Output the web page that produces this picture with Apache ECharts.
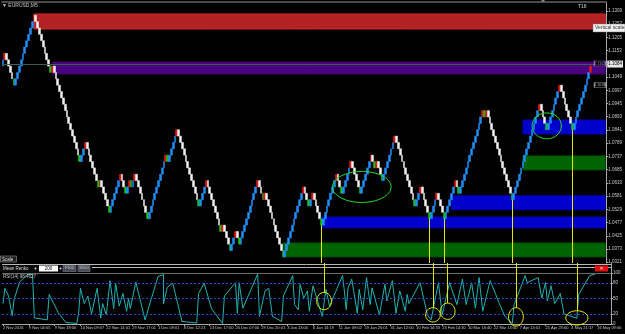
<!DOCTYPE html>
<html><head><meta charset="utf-8">
<script src="https://cdn.jsdelivr.net/npm/echarts@6/dist/echarts.min.js"></script>
<style>html,body{margin:0;padding:0;background:#000;}#c{width:625px;height:334px;}</style>
</head><body><div id="c"></div>
<script>
const symbolTitle = 'EURUSD,M5';
const indicatorTitle = 'RSI(14) 98.4627';
const timeLabels = ['2 Nov 2016','9 Nov 04:05','9 Nov 18:00','14 Nov 09:07','22 Nov 14:01','29 Nov 17:01','1 Dec 09:01','8 Dec 12:23','13 Dec 17:00','20 Dec 07:00','29 Dec 20:01','3 Jan 13:00','6 Jan 14:19','11 Jan 09:02','19 Jan 20:01','31 Jan 12:00','10 Feb 14:33','23 Feb 14:30','10 Mar 16:40','22 Mar 13:00','7 Apr 14:01','21 Apr 23:00','4 May 21:17','16 May 09:06'];
const priceTicks = [1.0321,1.0373,1.0425,1.0477,1.0529,1.0581,1.0633,1.0685,1.0737,1.0789,1.0841,1.0893,1.0945,1.0997,1.1049,1.1101,1.1153,1.1205,1.1257,1.1309];
const oscTicks = [0,20,50,80,100];
const oscLevels = [20,50,80];
const firstOpen = 1.1092;
const brickCloses = [
1.1117,1.1142,1.1117,1.1092,1.1067,1.1042,1.1017,
1.1042,1.1067,1.1092,1.1117,1.1142,1.1167,1.1192,1.1217,1.1242,1.1267,1.1292,
1.1267,1.1242,1.1217,1.1192,1.1167,1.1142,1.1117,1.1092,1.1067,
1.1092,
1.1067,1.1042,1.1017,1.0992,1.0967,1.0942,1.0917,1.0892,1.0867,1.0842,1.0817,1.0792,1.0767,1.0742,1.0717,
1.0742,1.0767,1.0792,
1.0767,1.0742,1.0717,1.0692,1.0667,1.0642,1.0617,
1.0642,
1.0617,1.0592,1.0567,1.0542,1.0517,
1.0542,1.0567,1.0592,1.0617,1.0642,1.0667,
1.0642,1.0617,1.0592,
1.0617,1.0642,
1.0617,
1.0642,1.0667,
1.0642,1.0617,1.0592,1.0567,1.0542,1.0517,1.0492,
1.0517,1.0542,1.0567,1.0592,1.0617,1.0642,1.0667,1.0692,1.0717,1.0742,
1.0717,
1.0742,1.0767,1.0792,1.0817,1.0842,
1.0817,1.0792,1.0767,1.0742,1.0717,1.0692,1.0667,1.0642,1.0617,1.0592,1.0567,1.0542,
1.0567,1.0592,1.0617,1.0642,
1.0617,1.0592,1.0567,1.0542,1.0517,1.0492,1.0467,1.0442,
1.0467,
1.0442,1.0417,1.0392,1.0367,
1.0392,1.0417,1.0442,
1.0417,1.0392,
1.0417,1.0442,1.0467,1.0492,1.0517,1.0542,1.0567,1.0592,1.0617,1.0642,
1.0617,1.0592,1.0567,
1.0592,
1.0567,1.0542,1.0517,1.0492,1.0467,1.0442,1.0417,1.0392,1.0367,1.0342,
1.0367,1.0392,1.0417,1.0442,1.0467,1.0492,1.0517,1.0542,1.0567,1.0592,1.0617,
1.0592,1.0567,1.0542,
1.0567,1.0592,
1.0567,1.0542,1.0517,1.0492,1.0467,
1.0492,1.0517,1.0542,1.0567,1.0592,1.0617,1.0642,1.0667,
1.0642,1.0617,1.0592,
1.0617,1.0642,1.0667,1.0692,1.0717,
1.0692,1.0667,1.0642,1.0617,1.0592,
1.0617,1.0642,1.0667,1.0692,1.0717,1.0742,
1.0717,1.0692,
1.0717,
1.0692,1.0667,1.0642,
1.0667,1.0692,1.0717,1.0742,1.0767,1.0792,1.0817,
1.0792,1.0767,1.0742,1.0717,1.0692,1.0667,1.0642,1.0617,1.0592,1.0567,1.0542,
1.0567,1.0592,1.0617,
1.0592,1.0567,1.0542,1.0517,1.0492,
1.0517,1.0542,1.0567,1.0592,
1.0567,1.0542,1.0517,1.0492,
1.0517,1.0542,1.0567,1.0592,1.0617,1.0642,
1.0617,1.0592,
1.0617,1.0642,1.0667,1.0692,1.0717,1.0742,1.0767,1.0792,1.0817,1.0842,1.0867,1.0892,1.0917,
1.0892,1.0917,
1.0892,1.0867,1.0842,1.0817,1.0792,1.0767,1.0742,1.0717,1.0692,1.0667,1.0642,1.0617,1.0592,1.0567,
1.0592,1.0617,1.0642,1.0667,1.0692,1.0717,1.0742,1.0767,1.0792,1.0817,1.0842,1.0867,1.0892,1.0917,1.0942,
1.0917,1.0892,1.0867,1.0842,
1.0867,1.0892,1.0917,1.0942,1.0967,1.0992,1.1017,
1.0992,1.0967,1.0942,1.0917,1.0892,1.0867,1.0842,
1.0867,1.0892,1.0917,1.0942,1.0967,1.0992,1.1017,1.1042,1.1067,1.1092
];
const zoneStart = [17, 27, 153, 174, 245, 284, 284];
const zoneLow   = [1.1238, 1.1061, 1.0342, 1.0456, 1.0527, 1.0684, 1.0825];
const zoneHigh  = [1.1297, 1.1108, 1.0397, 1.0499, 1.0582, 1.0739, 1.0880];
const zoneKind  = ['supply','pivot','demand','support','support','demand','support'];
const currentPrice = 1.1084;
const tagPrices = [1.1102, 1.1018];
const oscPoints = [[0,40],[1,70],[3,55],[5,16],[6,48],[9,82],[13,97],[16,97],[17,12],[24,8],[25,58],[30,22],[34,3],[40,1],[41,22],[42,70],[44,40],[46,55],[48,20],[51,70],[53,12],[54,40],[56,18],[58,85],[60,30],[61,80],[63,35],[65,60],[67,25],[68,50],[69,30],[72,82],[77,8],[80,45],[84,93],[87,97],[87,40],[89,72],[92,80],[97,5],[105,2],[106,60],[109,80],[113,30],[119,1],[120,55],[126,81],[127,21],[128,81],[130,31],[138,98],[139,15],[142,65],[144,70],[146,15],[151,5],[152,55],[157,95],[158,38],[160,28],[161,78],[163,51],[165,65],[166,25],[168,75],[173,15],[175,68],[177,35],[184,95],[185,65],[186,28],[187,71],[189,88],[192,21],[193,68],[195,28],[197,91],[199,38],[200,71],[204,18],[207,78],[208,45],[211,85],[213,21],[215,65],[218,25],[219,58],[220,40],[226,81],[230,18],[232,8],[236,81],[238,18],[242,81],[246,38],[249,88],[251,38],[254,81],[256,31],[258,91],[260,25],[264,85],[267,58],[269,40],[272,15],[276,1],[277,38],[283,95],[284,81],[290,91],[292,51],[294,81],[295,45],[297,75],[299,40],[302,60],[304,20],[311,11],[312,58],[318,95],[321,98]];
const signalBricks = [174, 233, 241, 278, 311];
const signalOscCenter = [45, 18, 25, 14, 12];
const signalRxBricks = [4, 4, 4, 4, 6];
const signalRyOsc = [17, 14, 16, 18, 14];
const clusterBrick = [196, 297];
const clusterPrice = [1.0617, 1.0857];
const clusterRxBricks = [16, 8];
const clusterRyPrice = [0.0061, 0.0051];

const FONT = 'Liberation Sans';
const SHIFT = 8;
const N = brickCloses.length;
const cats = [];
for (let i = 0; i < N + SHIFT; i++) cats.push(i % 14 === 0 && timeLabels[i / 14] ? timeLabels[i / 14] : '');
const lastCat = N + SHIFT - 1;
const zoneColor = {supply:'#B22222', pivot:'#4B0082', demand:'#006400', support:'#0000CD'};
const zoneBorder = {supply:'#D42A2A', pivot:'#3a0068', demand:'#005000', support:'#0000a8'};

const brickData = brickCloses.map((c, i) => {
  const o = i === 0 ? firstOpen : brickCloses[i - 1];
  const next = i < N - 1 ? brickCloses[i + 1] : null;
  const up = c > o;
  let col = up ? '#1E90FF' : '#F0F0F0';
  if (up && (next === null || next < c)) col = '#E01818';
  if (!up && next !== null && next > c) col = '#18C018';
  return {value: [o, c, Math.min(o, c), Math.max(o, c)],
          itemStyle: {color: col, color0: col, borderColor: col, borderColor0: col}};
});

const yMinMain = 1.0318, yMaxMain = 1.1344;
const yellow = {color: '#E6E600', width: 1, type: 'solid'};

const option = {
  backgroundColor: '#000000',
  animation: false,
  textStyle: {fontFamily: FONT},
  grid: [
    {left: 2, right: 14, top: 2, height: 261},
    {left: 2, right: 14, top: 263, height: 10},
    {left: 2, right: 14, top: 273, height: 51}
  ],
  xAxis: [
    {type: 'category', gridIndex: 0, data: cats, position: 'top',
     axisLine: {show: true, lineStyle: {color: '#4a4a4a', width: 2}}, axisTick: {show: false}, axisLabel: {show: false}, splitLine: {show: false}},
    {type: 'category', gridIndex: 1, data: cats, show: false},
    {type: 'category', gridIndex: 2, data: cats, position: 'bottom',
     axisLine: {show: true, lineStyle: {color: '#a8a8a8', width: 1}},
     axisTick: {show: true, interval: (i) => i % 14 === 0, alignWithLabel: true, length: 2, lineStyle: {color: '#a8a8a8'}},
     axisLabel: {interval: (i) => i % 14 === 0, align: 'left', fontSize: 4, color: '#c8c8c8', margin: 2, fontFamily: FONT},
     splitLine: {show: false}}
  ],
  yAxis: [
    {type: 'value', gridIndex: 0, position: 'right', min: yMinMain, max: yMaxMain,
     axisLine: {show: true, lineStyle: {color: '#a8a8a8'}},
     axisTick: {show: true, length: 2, customValues: priceTicks, lineStyle: {color: '#a8a8a8'}},
     axisLabel: {customValues: priceTicks, formatter: (v) => v.toFixed(4), fontSize: 4.5, color: '#c8c8c8', margin: 2, fontFamily: FONT},
     splitLine: {show: false}},
    {type: 'value', gridIndex: 1, position: 'right', min: 0, max: 10,
     axisLine: {show: true, lineStyle: {color: '#a8a8a8'}}, axisTick: {show: false}, axisLabel: {show: false}, splitLine: {show: false}},
    {type: 'value', gridIndex: 2, position: 'right', min: 0, max: 100,
     axisLine: {show: true, lineStyle: {color: '#a8a8a8'}},
     axisTick: {show: true, length: 2, customValues: oscTicks, lineStyle: {color: '#a8a8a8'}},
     axisLabel: {customValues: oscTicks, fontSize: 4.5, color: '#c8c8c8', margin: 2, fontFamily: FONT},
     splitLine: {show: false}}
  ],
  series: [
    {type: 'line', xAxisIndex: 0, yAxisIndex: 0, data: [], silent: true,
     markArea: {silent: true, data: zoneStart.map((s, i) => [
       {coord: [s, zoneLow[i]], itemStyle: {color: zoneColor[zoneKind[i]], borderColor: zoneBorder[zoneKind[i]], borderWidth: 1}},
       {coord: [lastCat, zoneHigh[i]]}])},
     markLine: {silent: true, symbol: ['none', 'none'], label: {show: false},
       data: signalBricks.map((b) => [{coord: [b, brickCloses[b]], lineStyle: yellow}, {coord: [b, yMinMain]}])}},
    {type: 'candlestick', xAxisIndex: 0, yAxisIndex: 0, z: 3, data: brickData, barWidth: 2.3,
     itemStyle: {borderWidth: 0.5},
     markLine: {silent: true, symbol: ['none', 'none'],
       data: [{yAxis: currentPrice, lineStyle: {color: '#3d5a5a', width: 1, type: 'solid'},
               label: {show: true, position: 'end', distance: 1, formatter: currentPrice.toFixed(4), fontSize: 4.5, color: '#000',
                       backgroundColor: '#e6e6e6', padding: [1, 1], fontFamily: FONT}}]},
     markPoint: {silent: true, data: tagPrices.map((p, i) => ({
       coord: [N + 4, p], symbol: 'rect', symbolSize: [11, 5],
       itemStyle: {color: '#000', borderColor: i === 0 ? '#9a6ad0' : '#909090', borderWidth: 0.8},
       label: {show: true, position: 'inside', formatter: p.toFixed(4), fontSize: 3.5, color: i === 0 ? '#b090e0' : '#b0b0b0', fontFamily: FONT}}))}},
    {type: 'custom', xAxisIndex: 0, yAxisIndex: 0, z: 6, silent: true,
     data: clusterBrick.map((b, i) => [b, clusterPrice[i], clusterRxBricks[i], clusterRyPrice[i]]),
     renderItem: (params, api) => {
       const c = api.coord([api.value(0), api.value(1)]);
       const e = api.coord([api.value(0) + api.value(2), api.value(1) + api.value(3)]);
       return {type: 'ellipse', shape: {cx: c[0], cy: c[1], rx: Math.abs(e[0] - c[0]), ry: Math.abs(e[1] - c[1])},
               style: {fill: 'none', stroke: '#22DD22', lineWidth: 1}};
     }},
    {type: 'line', xAxisIndex: 1, yAxisIndex: 1, data: [], silent: true,
     markLine: {silent: true, symbol: ['none', 'none'], label: {show: false},
       data: [{yAxis: 9, lineStyle: {color: '#b8b8b8', width: 1, type: 'solid'}},
              {yAxis: 6, lineStyle: {color: '#b8b8b8', width: 1, type: 'solid'}}]
         .concat(signalBricks.map((b) => [{coord: [b, 0], lineStyle: yellow}, {coord: [b, 10]}]))}},
    {type: 'line', xAxisIndex: 2, yAxisIndex: 2, data: oscPoints, showSymbol: false, silent: true,
     lineStyle: {color: '#1FB2B2', width: 1},
     markLine: {silent: true, symbol: ['none', 'none'], label: {show: false},
       data: oscLevels.map((v) => ({yAxis: v, lineStyle: {color: '#2a52c8', width: 1, type: [2, 2]}}))
         .concat([{yAxis: 100, lineStyle: {color: '#6a6a6a', width: 1, type: 'solid'}}])
         .concat(signalBricks.map((b, i) => [{coord: [b, 100], lineStyle: yellow}, {coord: [b, signalOscCenter[i] + signalRyOsc[i]]}]))}},
    {type: 'custom', xAxisIndex: 2, yAxisIndex: 2, z: 6, silent: true,
     data: signalBricks.map((b, i) => [b, signalOscCenter[i], signalRxBricks[i], signalRyOsc[i]]),
     renderItem: (params, api) => {
       const c = api.coord([api.value(0), api.value(1)]);
       const e = api.coord([api.value(0) + api.value(2), api.value(1) + api.value(3)]);
       return {type: 'ellipse', shape: {cx: c[0], cy: c[1], rx: Math.abs(e[0] - c[0]), ry: Math.abs(e[1] - c[1])},
               style: {fill: 'none', stroke: '#E6E600', lineWidth: 1}};
     }}
  ],
  graphic: [
    {type: 'text', x: 2, y: 3, z: 100, style: {text: '\u25BC ' + symbolTitle, fill: '#c8c8c8', fontSize: 5, fontFamily: FONT}},
    {type: 'text', x: 578, y: 4, z: 100, style: {text: 'T18', fill: '#c8c8c8', fontSize: 5, fontFamily: FONT}},
    {type: 'polygon', z: 100, shape: {points: [[541, 0], [545, 0], [543, 2.5]]}, style: {fill: '#7a8a7a'}},
    {type: 'rect', z: 100, shape: {x: 593, y: 24, width: 32, height: 8}, style: {fill: '#f2f2f2', stroke: '#7a7a7a', lineWidth: 0.5}},
    {type: 'text', x: 595, y: 25.5, z: 101, style: {text: 'Vertical scale', fill: '#333', fontSize: 5, fontFamily: FONT}},
    {type: 'rect', z: 100, shape: {x: 0.5, y: 256, width: 16, height: 6}, style: {fill: '#202020', stroke: '#b0b0b0', lineWidth: 0.5}},
    {type: 'text', x: 2, y: 256.8, z: 101, style: {text: 'Scale', fill: '#dddddd', fontSize: 4.5, fontFamily: FONT}},
    {type: 'rect', z: 100, shape: {x: 0, y: 265, width: 92, height: 7}, style: {fill: '#0a0a0a'}},
    {type: 'text', x: 3, y: 266.3, z: 101, style: {text: 'Mean Renko', fill: '#d8d8d8', fontSize: 4.5, fontFamily: FONT}},
    {type: 'circle', z: 101, shape: {cx: 35.5, cy: 268.5, r: 1}, style: {fill: '#d8d8d8'}},
    {type: 'rect', z: 101, shape: {x: 39, y: 265.5, width: 19, height: 6}, style: {fill: '#ffffff'}},
    {type: 'text', x: 48.5, y: 266.3, z: 102, style: {text: '200', fill: '#000', fontSize: 4.5, align: 'center', fontFamily: FONT}},
    {type: 'circle', z: 101, shape: {cx: 60.5, cy: 268.5, r: 1}, style: {fill: '#d8d8d8'}},
    {type: 'rect', z: 101, shape: {x: 63, y: 265.5, width: 13, height: 6}, style: {fill: '#4a4a5a', stroke: '#8a8a9a', lineWidth: 0.5}},
    {type: 'text', x: 69.5, y: 266.3, z: 102, style: {text: 'F100', fill: '#d0d0d0', fontSize: 4, align: 'center', fontFamily: FONT}},
    {type: 'rect', z: 101, shape: {x: 78, y: 265.5, width: 12, height: 6}, style: {fill: '#4a4a5a', stroke: '#8a8a9a', lineWidth: 0.5}},
    {type: 'text', x: 84, y: 266.3, z: 102, style: {text: 'S500', fill: '#d0d0d0', fontSize: 4, align: 'center', fontFamily: FONT}},
    {type: 'rect', z: 100, shape: {x: 595, y: 265.5, width: 13, height: 6}, style: {fill: '#e01010'}},
    {type: 'text', x: 601.5, y: 265.5, z: 101, style: {text: '\u00D7', fill: '#ffffff', fontSize: 6, align: 'center', fontFamily: FONT}},
    {type: 'text', x: 3, y: 274.5, z: 100, style: {text: indicatorTitle, fill: '#c8c8c8', fontSize: 4.5, fontFamily: FONT}}
  ]
};
const chart = echarts.init(document.getElementById('c'));
chart.setOption(option);
</script>
</body></html>
